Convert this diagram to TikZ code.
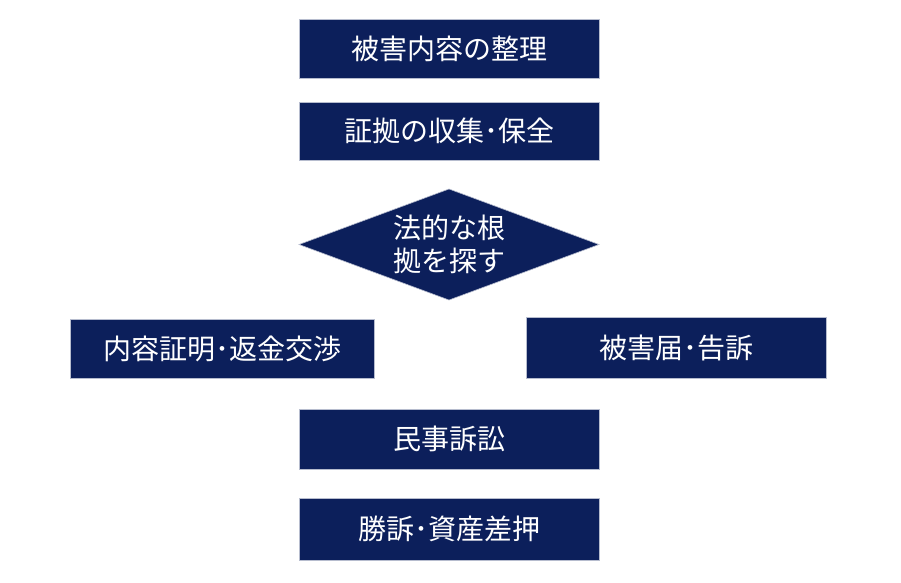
\documentclass[tikz,border=0pt]{standalone}
\usepackage{fontspec}
\setmainfont{Noto Sans CJK JP}
\usetikzlibrary{shapes.geometric}
\definecolor{navy}{HTML}{0C1F5B}
\begin{document}
\begin{tikzpicture}[x=1pt,y=-1pt,
  box/.style={fill=navy,draw=white!70!navy,line width=0.6pt,text=white,font=\fontsize{28}{33}\selectfont,inner sep=0pt,anchor=north west}]
\useasboundingbox (0,0) rectangle (901,582);
\node[box,minimum width=300pt,minimum height=59pt] (a) at (299,19) {被害内容の整理};
\node[box,minimum width=300pt,minimum height=58pt] (b) at (299,102) {証拠の収集･保全};
\path[fill=navy,draw=white!70!navy,line width=0.6pt] (299,244.5) -- (449,189) -- (599,244.5) -- (449,300) -- cycle;
\node[text=white,font=\fontsize{28}{33}\selectfont,align=center] (c) at (449,244.5) {法的な根\\拠を探す};
\node[box,minimum width=304pt,minimum height=59pt] (d) at (70,319) {内容証明･返金交渉};
\node[box,minimum width=300pt,minimum height=61pt] (e) at (526,317) {被害届･告訴};
\node[box,minimum width=300pt,minimum height=60pt] (f) at (299,409) {民事訴訟};
\node[box,minimum width=300pt,minimum height=62pt] (g) at (299,498) {勝訴･資産差押};
\end{tikzpicture}
\end{document}
